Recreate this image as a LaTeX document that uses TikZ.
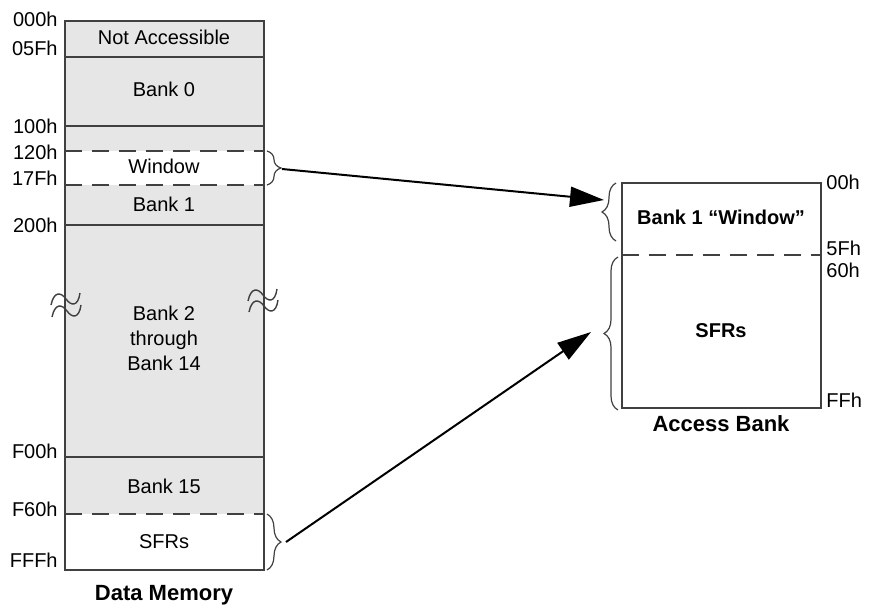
\documentclass[tikz,border=0pt]{standalone}
\usepackage{fontspec}
\setmainfont{Liberation Sans}
\usepackage{xcolor}
\usetikzlibrary{arrows.meta, decorations.pathreplacing}
\definecolor{bankgray}{HTML}{E6E6E6}
\definecolor{edgegray}{HTML}{404040}
\tikzstyle{divider} = [draw=edgegray, line width=0.75pt]
\tikzstyle{cutline} = [draw=edgegray, line width=0.75pt, dash pattern=on 8.5pt off 5pt]
\tikzstyle{addr} = [font=\fontsize{10}{12}\selectfont, inner sep=0pt]
\tikzstyle{bankname} = [font=\fontsize{10}{12.5}\selectfont, align=center, inner sep=0pt]
\tikzstyle{heading} = [font=\fontsize{11}{13}\selectfont\bfseries, inner sep=0pt]
\tikzstyle{curly} = [decorate, decoration={brace, amplitude=7pt}, draw=edgegray, line width=0.6pt]
\tikzstyle{wave} = [draw=edgegray, line width=0.7pt]
\tikzstyle{arrow} = [-{Triangle[length=17pt, width=10pt]}, line width=1pt]

\begin{document}
\begin{tikzpicture}[x=0.5pt, y=-0.5pt]
\useasboundingbox (0,0) rectangle (876,610);

% data memory column
\fill[bankgray] (65,21) rectangle (264,570);
\fill[white] (65,151) rectangle (264,185);
\fill[white] (65,514) rectangle (264,570);
\draw[divider] (65,57) -- (264,57);
\draw[divider] (65,126) -- (264,126);
\draw[divider] (65,225) -- (264,225);
\draw[divider] (65,457) -- (264,457);
\draw[cutline] (65,151) -- (264,151);
\draw[cutline] (65,185) -- (264,185);
\draw[cutline] (65,514) -- (264,514);
\draw[divider] (65,21) rectangle (264,570);

% break marks
\foreach \dx/\dy in {0/0, 1/12} {
  \draw[wave] (51+\dx,305+\dy) .. controls (54+\dx,291+\dy) and (61+\dx,292+\dy) .. (66+\dx,299+\dy)
    .. controls (71+\dx,306+\dy) and (78+\dx,307+\dy) .. (80+\dx,293+\dy);
}
\foreach \dx/\dy in {0/0, 1/11} {
  \draw[wave] (248+\dx,301+\dy) .. controls (251+\dx,287+\dy) and (258+\dx,288+\dy) .. (263+\dx,295+\dy)
    .. controls (268+\dx,302+\dy) and (275+\dx,303+\dy) .. (277+\dx,289+\dy);
}

\node[bankname] (notacc) at (164,37) {Not Accessible};
\node[bankname] (bank0) at (164,89) {Bank 0};
\node[bankname] (window) at (164,166) {Window};
\node[bankname] (bank1) at (164,204) {Bank 1};
\node[bankname] (bankmid) at (164,338) {Bank 2\\through\\Bank 14};
\node[bankname] (bank15) at (164,486) {Bank 15};
\node[bankname] (sfrlow) at (164,542) {SFRs};
\node[heading] (datamem) at (164,595) {Data Memory};

\node[addr, anchor=east] (a000) at (58,19) {000h};
\node[addr, anchor=east] (a05f) at (58,48) {05Fh};
\node[addr, anchor=east] (a100) at (58,126) {100h};
\node[addr, anchor=east] (a120) at (58,152) {120h};
\node[addr, anchor=east] (a17f) at (58,178) {17Fh};
\node[addr, anchor=east] (a200) at (58,225) {200h};
\node[addr, anchor=east] (af00) at (58,451) {F00h};
\node[addr, anchor=east] (af60) at (58,509) {F60h};
\node[addr, anchor=east] (afff) at (58,560) {FFFh};

% access bank column
\fill[white] (622,183) rectangle (821,408);
\draw[cutline] (622,255) -- (821,255);
\draw[divider] (622,183) rectangle (821,408);

\node[heading, font=\fontsize{10}{12}\selectfont\bfseries] (winbank) at (721,217) {Bank 1 “Window”};
\node[heading, font=\fontsize{10}{12}\selectfont\bfseries] (sfrhigh) at (721,331) {SFRs};
\node[heading] (accbank) at (721,424) {Access Bank};

\node[addr, anchor=west] (b00) at (826,182) {00h};
\node[addr, anchor=west] (b5f) at (826,248) {5Fh};
\node[addr, anchor=west] (b60) at (826,270) {60h};
\node[addr, anchor=west] (bff) at (826,400) {FFh};

% braces
\draw[curly] (267,151) -- (267,185);
\draw[curly] (267,514) -- (267,570);
\draw[curly] (616,241) -- (616,183);
\draw[curly] (618,410) -- (618,257);

\coordinate (wintip) at (282,169);
\coordinate (sfrtip) at (286,542);
\coordinate (winend) at (604,200);
\coordinate (sfrend) at (591,332);

\draw[arrow] (wintip) -- (winend);
\draw[arrow] (sfrtip) -- (sfrend);
\end{tikzpicture}
\end{document}
